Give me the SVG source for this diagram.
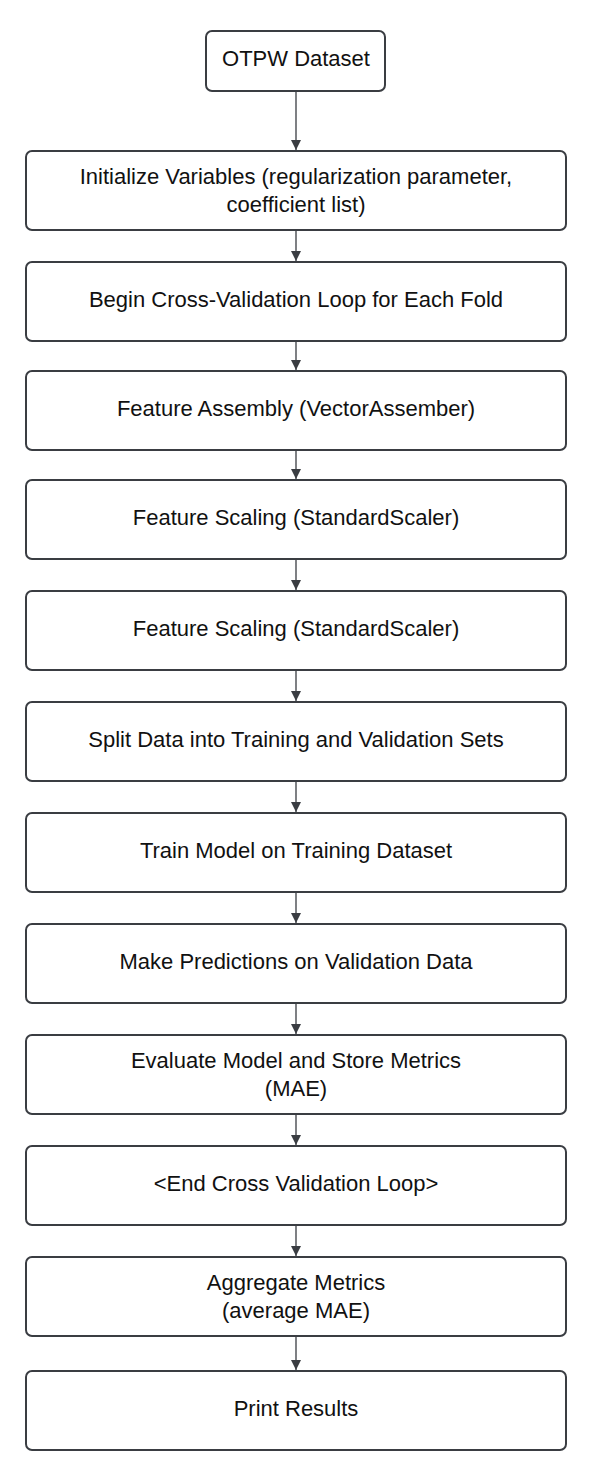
<svg xmlns="http://www.w3.org/2000/svg" width="592" height="1471" viewBox="0 0 592 1471">
<style>
.box{fill:#fff;stroke:#3a3d42;stroke-width:2}
.t{font-family:"Liberation Sans",Arial,sans-serif;font-size:22px;fill:#111;text-anchor:middle}
.c{stroke:#3a3d42;stroke-width:1.3;fill:none}
</style>
<defs>
<marker id="ah" viewBox="0 0 10 10" refX="10" refY="5" markerWidth="10" markerHeight="10" markerUnits="userSpaceOnUse" orient="auto">
<path d="M0,0 L10,5 L0,10 Z" fill="#3a3d42"/>
</marker>
</defs>
<rect width="592" height="1471" fill="#fff"/>
<g id="connectors">
<line class="c" x1="296" y1="91" x2="296" y2="150" marker-end="url(#ah)"/>
<line class="c" x1="296" y1="230" x2="296" y2="261" marker-end="url(#ah)"/>
<line class="c" x1="296" y1="341" x2="296" y2="370" marker-end="url(#ah)"/>
<line class="c" x1="296" y1="450" x2="296" y2="479" marker-end="url(#ah)"/>
<line class="c" x1="296" y1="559" x2="296" y2="590" marker-end="url(#ah)"/>
<line class="c" x1="296" y1="670" x2="296" y2="701" marker-end="url(#ah)"/>
<line class="c" x1="296" y1="781" x2="296" y2="812" marker-end="url(#ah)"/>
<line class="c" x1="296" y1="892" x2="296" y2="923" marker-end="url(#ah)"/>
<line class="c" x1="296" y1="1003" x2="296" y2="1034" marker-end="url(#ah)"/>
<line class="c" x1="296" y1="1114" x2="296" y2="1145" marker-end="url(#ah)"/>
<line class="c" x1="296" y1="1225" x2="296" y2="1256" marker-end="url(#ah)"/>
<line class="c" x1="296" y1="1336" x2="296" y2="1370" marker-end="url(#ah)"/>
</g>
<g id="n0"><rect class="box" x="206" y="31" width="179" height="60" rx="6"/><text class="t" x="296" y="66">OTPW Dataset</text></g>
<g id="n1"><rect class="box" x="26" y="151" width="540" height="79" rx="6"/><text class="t" x="296" y="184">Initialize Variables (regularization parameter,</text><text class="t" x="296" y="212">coefficient list)</text></g>
<g id="n2"><rect class="box" x="26" y="262" width="540" height="79" rx="6"/><text class="t" x="296" y="307">Begin Cross-Validation Loop for Each Fold</text></g>
<g id="n3"><rect class="box" x="26" y="371" width="540" height="79" rx="6"/><text class="t" x="296" y="416">Feature Assembly (VectorAssember)</text></g>
<g id="n4"><rect class="box" x="26" y="480" width="540" height="79" rx="6"/><text class="t" x="296" y="525">Feature Scaling (StandardScaler)</text></g>
<g id="n5"><rect class="box" x="26" y="591" width="540" height="79" rx="6"/><text class="t" x="296" y="636">Feature Scaling (StandardScaler)</text></g>
<g id="n6"><rect class="box" x="26" y="702" width="540" height="79" rx="6"/><text class="t" x="296" y="747">Split Data into Training and Validation Sets</text></g>
<g id="n7"><rect class="box" x="26" y="813" width="540" height="79" rx="6"/><text class="t" x="296" y="858">Train Model on Training Dataset</text></g>
<g id="n8"><rect class="box" x="26" y="924" width="540" height="79" rx="6"/><text class="t" x="296" y="969">Make Predictions on Validation Data</text></g>
<g id="n9"><rect class="box" x="26" y="1035" width="540" height="79" rx="6"/><text class="t" x="296" y="1068">Evaluate Model and Store Metrics</text><text class="t" x="296" y="1096">(MAE)</text></g>
<g id="n10"><rect class="box" x="26" y="1146" width="540" height="79" rx="6"/><text class="t" x="296" y="1191">&lt;End Cross Validation Loop&gt;</text></g>
<g id="n11"><rect class="box" x="26" y="1257" width="540" height="79" rx="6"/><text class="t" x="296" y="1290">Aggregate Metrics</text><text class="t" x="296" y="1318">(average MAE)</text></g>
<g id="n12"><rect class="box" x="26" y="1371" width="540" height="79" rx="6"/><text class="t" x="296" y="1416">Print Results</text></g>
</svg>
